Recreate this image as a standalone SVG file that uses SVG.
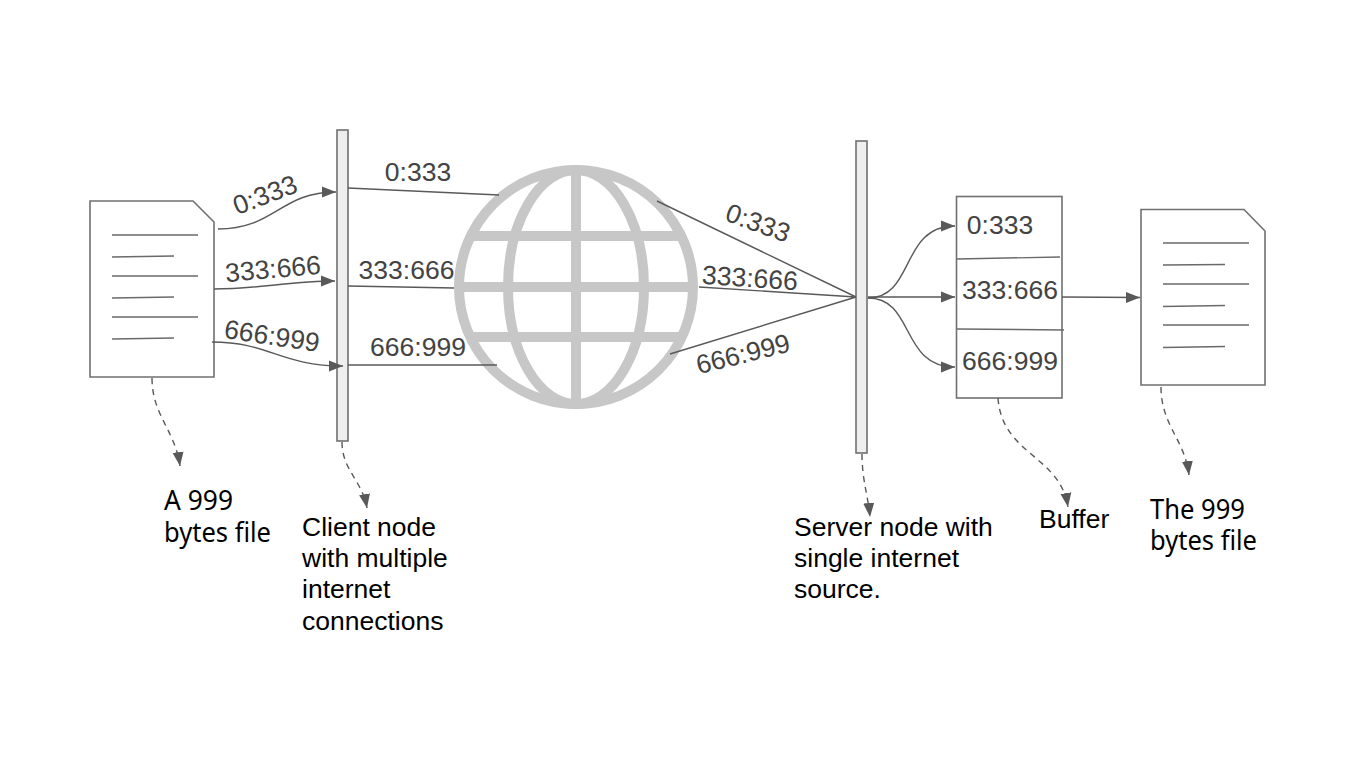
<svg xmlns="http://www.w3.org/2000/svg" width="1366" height="768" viewBox="0 0 1366 768">
<style>
.shape{fill:#fff;stroke:#707070;stroke-width:1.6}
.bar{fill:#eee;stroke:#707070;stroke-width:1.6}
.ln{fill:none;stroke:#595959;stroke-width:1.4}
.cap{fill:none;stroke:#6a6a6a;stroke-width:1.4}
.arr{fill:none;stroke:#595959;stroke-width:1.4;marker-end:url(#a)}
.dash{fill:none;stroke:#595959;stroke-width:1.4;stroke-dasharray:6 5;marker-end:url(#a)}
.g{fill:none;stroke:#c7c7c7;stroke-width:10}
.lab{font-family:"Liberation Sans",Arial,sans-serif;font-size:26.5px;fill:#434343;text-anchor:middle}
.blk{font-family:"Liberation Sans",Arial,sans-serif;font-size:26.5px;fill:#000}
.nt{font-family:"Noto Sans",sans-serif;font-size:26.67px;fill:#000}
</style>
<defs>
<marker id="a" markerUnits="userSpaceOnUse" markerWidth="15" markerHeight="13" refX="14" refY="6" orient="auto"><path d="M0 0.500L14 6L0 11.500z" fill="#595959"/></marker>
</defs>
<rect width="1366" height="768" fill="#fff"/>
<g id="file-a">
<path class="shape" d="M90 201H193L214 222V377H90Z"/>
<path class="cap" d="M112 235H198M112 257L174 256M112 276H198M112 298L174 297M112 317H198M112 339L174 338"/>
<text class="nt" x="164" y="510" textLength="69" lengthAdjust="spacingAndGlyphs">A 999</text>
<text class="nt" x="164" y="542" textLength="107" lengthAdjust="spacingAndGlyphs">bytes file</text>
</g>
<g id="client">
<rect class="bar" x="337" y="130" width="11" height="311"/>
<text class="blk" x="302" y="536">Client node</text>
<text class="blk" x="302" y="567">with multiple</text>
<text class="blk" x="302" y="598">internet</text>
<text class="blk" x="302" y="630">connections</text>
</g>
<g id="globe">
<circle class="g" cx="576" cy="287" r="117"/>
<ellipse class="g" cx="576" cy="287" rx="68" ry="117"/>
<path class="g" d="M576 170V404M459 287H693M471 236H681M471 337H681"/>
</g>
<g id="server">
<rect class="bar" x="856" y="141" width="11" height="312"/>
<text class="blk" x="794" y="536">Server node with</text>
<text class="blk" x="794" y="567">single internet</text>
<text class="blk" x="794" y="598">source.</text>
</g>
<g id="buffer">
<rect class="shape" x="956.500" y="196.500" width="105.500" height="201.500"/>
<path class="cap" d="M957 259L1060 257M957 329L1064 330"/>
<text class="lab" x="1000" y="234">0:333</text>
<text class="lab" x="1010" y="299">333:666</text>
<text class="lab" x="1010" y="370">666:999</text>
<text class="blk" x="1039" y="528">Buffer</text>
</g>
<g id="file-b">
<path class="shape" d="M1141 209.500H1244L1265 231V385H1141Z"/>
<path class="cap" d="M1163 243H1249M1163 265L1225 264.500M1163 284H1249M1163 306.500L1225 305.500M1163 325H1249M1163 347.500L1225 346.500"/>
<text class="nt" x="1150" y="519" textLength="95" lengthAdjust="spacingAndGlyphs">The 999</text>
<text class="nt" x="1150" y="550" textLength="107" lengthAdjust="spacingAndGlyphs">bytes file</text>
</g>
<g id="connectors">
<path class="arr" d="M218 229C275 229 280 192 336 192"/>
<path class="arr" d="M214 289C260 289 290 281 335 281"/>
<path class="arr" d="M212 342C270 342 280 366 343 366"/>
<path class="ln" d="M348 188L499 195M348 286L454 288M348 365H497M657 201L856 297M699 287L856 297M670 354L856 297"/>
<path class="arr" d="M868 298C915 298 900 226 955 226"/>
<path class="arr" d="M868 297H955"/>
<path class="arr" d="M868 298C915 298 900 367 955 367"/>
<path class="arr" d="M1062 297L1140 297.500"/>
<path class="dash" d="M152 378C152 415 175 430 180 466"/>
<path class="dash" d="M342 442C342 470 362 480 367 508"/>
<path class="dash" d="M862 454C862 480 868 495 870 517"/>
<path class="dash" d="M998 398C1002 455 1060 455 1068 507"/>
<path class="dash" d="M1161 387C1161 425 1185 440 1189 475"/>
<text class="lab" x="265" y="204" transform="rotate(-21 265 195)">0:333</text>
<text class="lab" x="273" y="278" transform="rotate(-5 273 269)">333:666</text>
<text class="lab" x="272" y="345" transform="rotate(8.500 272 336)">666:999</text>
<text class="lab" x="418" y="181">0:333</text>
<text class="lab" x="406.500" y="279">333:666</text>
<text class="lab" x="418" y="356">666:999</text>
<text class="lab" x="758" y="232" transform="rotate(20 758 223)">0:333</text>
<text class="lab" x="750" y="287" transform="rotate(4 750 278)">333:666</text>
<text class="lab" x="743" y="363" transform="rotate(-14 743 354)">666:999</text>
</g>
</svg>
